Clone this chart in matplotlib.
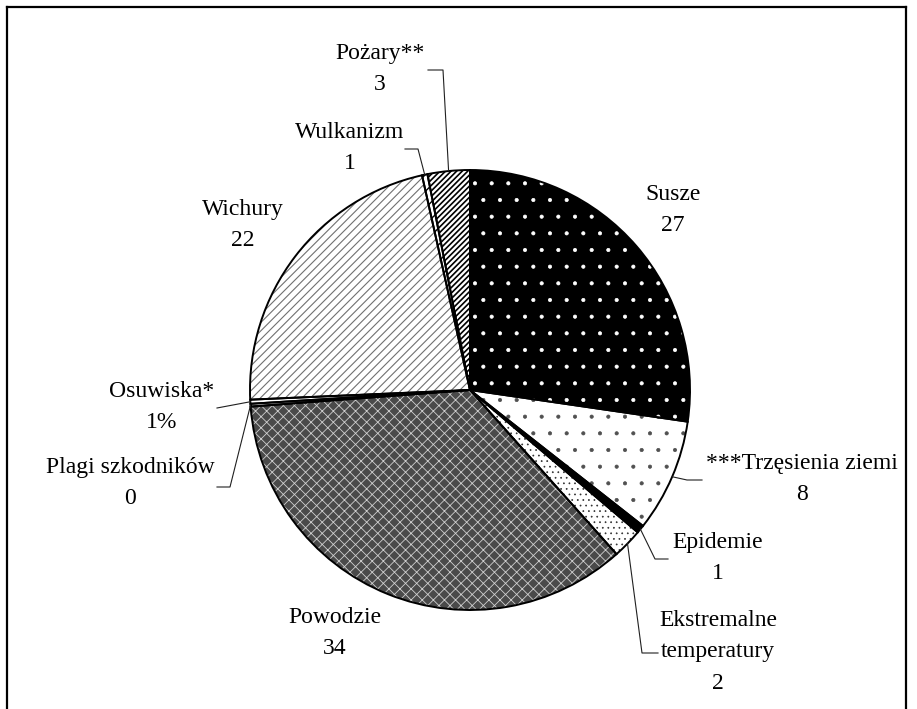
import matplotlib
matplotlib.use("Agg")
import matplotlib.pyplot as plt
from matplotlib.lines import Line2D
import numpy as np

# ---- data (clockwise from 12 o'clock) ----
categories = ["Susze", "***Trzęsienia ziemi", "Epidemie", "Ekstremalne\ntemperatury",
              "Powodzie", "Plagi szkodników", "Osuwiska*", "Wichury", "Wulkanizm", "Pożary**"]
shares = [27.3, 8.3, 0.6, 2.2, 35.4, 0.2, 0.3, 22.2, 0.4, 3.1]
shown_values = ["27", "8", "1", "2", "34", "0", "1%", "22", "1", "3"]

# ---- styles ----
face_colors = ["black", "white", "black", "white", "#4a4a4a", "white", "white", "white", "white", "white"]
hatch_colors = ["white", "#505050", "black", "#303030", "#cfcfcf", "black", "black", "#707070", "black", "#000000"]
hatches = [".", ".", None, "...", "xxx", None, None, "////", "//", "//////"]
hatch_lws = [0.5, 0.5, 1.0, 0.5, 0.6, 1.0, 1.0, 0.8, 1.0, 1.2]

plt.rcParams['font.family'] = ['Liberation Serif', 'DejaVu Serif']
plt.rcParams['hatch.linewidth'] = 0.6

W, H = 917, 709
fig = plt.figure(figsize=(W / 100, H / 100), dpi=100)
cx, cy, R = 470, 390, 220
ax = fig.add_axes([(cx - R) / W, (H - cy - R) / H, 2 * R / W, 2 * R / H])
ax.set_xlim(-1, 1)
ax.set_ylim(-1, 1)
ax.axis('off')

# pass 1: fills + hatches
wedges, _ = ax.pie(shares, startangle=90, counterclock=False, radius=1,
                   wedgeprops=dict(linewidth=0))
for w, fc, hc, h, hl in zip(wedges, face_colors, hatch_colors, hatches, hatch_lws):
    w.set_facecolor(fc)
    w.set_edgecolor(hc)
    w.set_linewidth(0)
    if h:
        w.set_hatch(h)
        if hasattr(w, "set_hatch_linewidth"):
            w.set_hatch_linewidth(hl)
# pass 2: outlines
wedges2, _ = ax.pie(shares, startangle=90, counterclock=False, radius=1,
                    wedgeprops=dict(facecolor='none', edgecolor='black', linewidth=1.4))
ax.set_xlim(-1, 1)
ax.set_ylim(-1, 1)

# ---- labels (layout positions in pixels) ----
label_pos = [(673, 210), (802, 479), (718, 558), (718, 652), (335, 633),
             (130, 483), (162, 407), (243, 225), (350, 148), (380, 69)]
# leader lines: start near label, elbow (pixels); None = no leader
leader_pts = [None,
              [(702, 480), (687, 480)],
              [(668, 559), (655, 559)],
              [(658, 653), (642, 653)],
              None,
              [(217, 487), (230, 487)],
              [(217, 408)],
              None,
              [(405, 149), (418, 149)],
              [(428, 70), (443, 70)]]

def px2d(p):
    return ((p[0] - cx) / R, (cy - p[1]) / R)

for w, cat, val, pos, lp in zip(wedges, categories, shown_values, label_pos, leader_pts):
    x, y = px2d(pos)
    ax.text(x, y, f"{cat}\n{val}", ha='center', va='center', fontsize=17,
            linespacing=1.65, clip_on=False)
    if lp:
        mid = np.deg2rad((w.theta1 + w.theta2) / 2)
        pts = [px2d(p) for p in lp] + [(np.cos(mid), np.sin(mid))]
        xs, ys = zip(*pts)
        ax.add_line(Line2D(xs, ys, color='#202020', lw=0.8, clip_on=False))

# outer frame
frame_lw = 1.6
fig.add_artist(Line2D([7 / W, 7 / W], [0, 1 - 7 / H], color='black', lw=frame_lw, transform=fig.transFigure))
fig.add_artist(Line2D([7 / W, 906 / W], [1 - 7 / H, 1 - 7 / H], color='black', lw=frame_lw, transform=fig.transFigure))
fig.add_artist(Line2D([906 / W, 906 / W], [0, 1 - 7 / H], color='black', lw=frame_lw, transform=fig.transFigure))

fig.savefig("out.png", dpi=100)
